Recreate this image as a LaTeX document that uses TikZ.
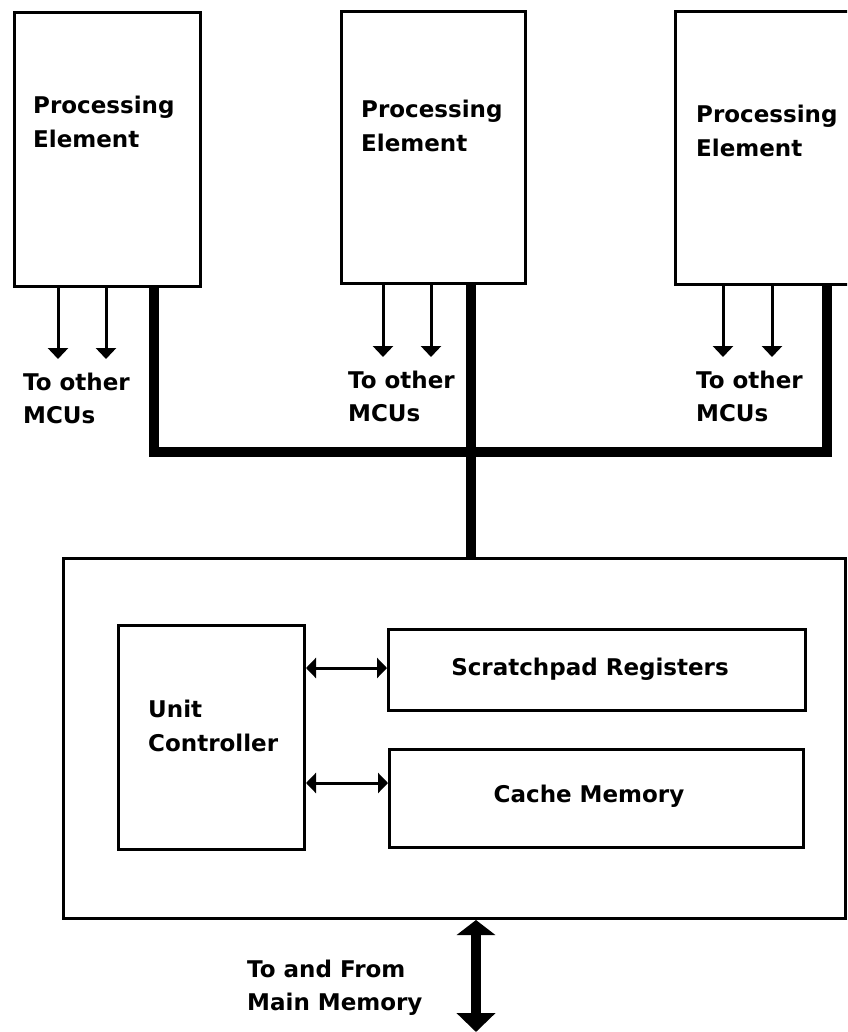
\documentclass[tikz,border=0pt]{standalone}
\usepackage{fontspec}
\setmainfont{DejaVu Sans}
\usetikzlibrary{arrows.meta}
\begin{document}
\begin{tikzpicture}[x=1pt,y=-1pt,
  box/.style={draw,line width=3pt,rectangle,inner sep=0pt,anchor=north west},
  lbl/.style={anchor=base west,inner sep=0pt,font=\fontsize{23}{28}\selectfont\bfseries},
  clbl/.style={anchor=base,inner sep=0pt,font=\fontsize{23}{28}\selectfont\bfseries},
  bus/.style={line width=10pt,line join=miter,line cap=butt},
  outarrow/.style={line width=3pt,-{Triangle[width=20pt,length=11pt]}},
  linkarrow/.style={line width=3pt,{Triangle[width=20pt,length=10pt]}-{Triangle[width=20pt,length=10pt]}},
  memarrow/.style={line width=10pt,{Triangle[width=38pt,length=15pt]}-{Triangle[width=38pt,length=19pt]}}]
\clip (0,0) rectangle (847,1032);
\fill[white] (0,0) rectangle (847,1032);

% processing elements
\node[box,minimum width=186pt,minimum height=274pt] (pe1) at (13,11) {};
\node[box,minimum width=184pt,minimum height=272pt] (pe2) at (340,10) {};
\node[box,minimum width=220pt,minimum height=273pt] (pe3) at (674,10) {};

\node[lbl] (pe1a) at (33,114) {Processing};
\node[lbl] (pe1b) at (33,148) {Element};
\node[lbl] (pe2a) at (361,118) {Processing};
\node[lbl] (pe2b) at (361,152) {Element};
\node[lbl] (pe3a) at (696,123) {Processing};
\node[lbl] (pe3b) at (696,157) {Element};

% links to the other MCUs
\coordinate (t1a) at (58,359);  \coordinate (t1b) at (106,359);
\coordinate (t2a) at (383,357); \coordinate (t2b) at (431,357);
\coordinate (t3a) at (723,357); \coordinate (t3b) at (772,357);
\draw[outarrow] (t1a |- pe1.south) -- (t1a);
\draw[outarrow] (t1b |- pe1.south) -- (t1b);
\draw[outarrow] (t2a |- pe2.south) -- (t2a);
\draw[outarrow] (t2b |- pe2.south) -- (t2b);
\draw[outarrow] (t3a |- pe3.south) -- (t3a);
\draw[outarrow] (t3b |- pe3.south) -- (t3b);

\node[lbl] (m1a) at (23,390) {To other};
\node[lbl] (m1b) at (23,423) {MCUs};
\node[lbl] (m2a) at (348,388) {To other};
\node[lbl] (m2b) at (348,421) {MCUs};
\node[lbl] (m3a) at (696,388) {To other};
\node[lbl] (m3b) at (696,421) {MCUs};

% memory control unit
\node[box,minimum width=782pt,minimum height=360pt] (mcu) at (62,557) {};
\node[box,minimum width=186pt,minimum height=224pt] (uc) at (117,624) {};
\node[box,minimum width=417pt,minimum height=81pt] (sr) at (387,628) {};
\node[box,minimum width=414pt,minimum height=98pt] (cm) at (388,748) {};

\node[lbl] (uca) at (148,717) {Unit};
\node[lbl] (ucb) at (148,751) {Controller};
\node[clbl] (srl) at (590,675) {Scratchpad Registers};
\node[clbl] (cml) at (589,802) {Cache Memory};

\coordinate (l1) at (0,668);
\coordinate (l2) at (0,783);
\draw[linkarrow] (uc.east |- l1) -- (sr.west |- l1);
\draw[linkarrow] (uc.east |- l2) -- (cm.west |- l2);

% shared bus
\coordinate (b1) at (154,452);
\coordinate (b2) at (471,452);
\coordinate (b3) at (827,452);
\draw[bus] (b1 |- pe1.south) -- (b1) -- (b3) -- (b3 |- pe3.south);
\draw[bus] (b2 |- pe2.south) -- (b2 |- mcu.north);

% main memory port
\coordinate (mm) at (476,1032);
\draw[memarrow] (mm |- mcu.south) -- (mm);
\node[lbl] (mma) at (247,977) {To and From};
\node[lbl] (mmb) at (247,1010) {Main Memory};
\end{tikzpicture}
\end{document}
